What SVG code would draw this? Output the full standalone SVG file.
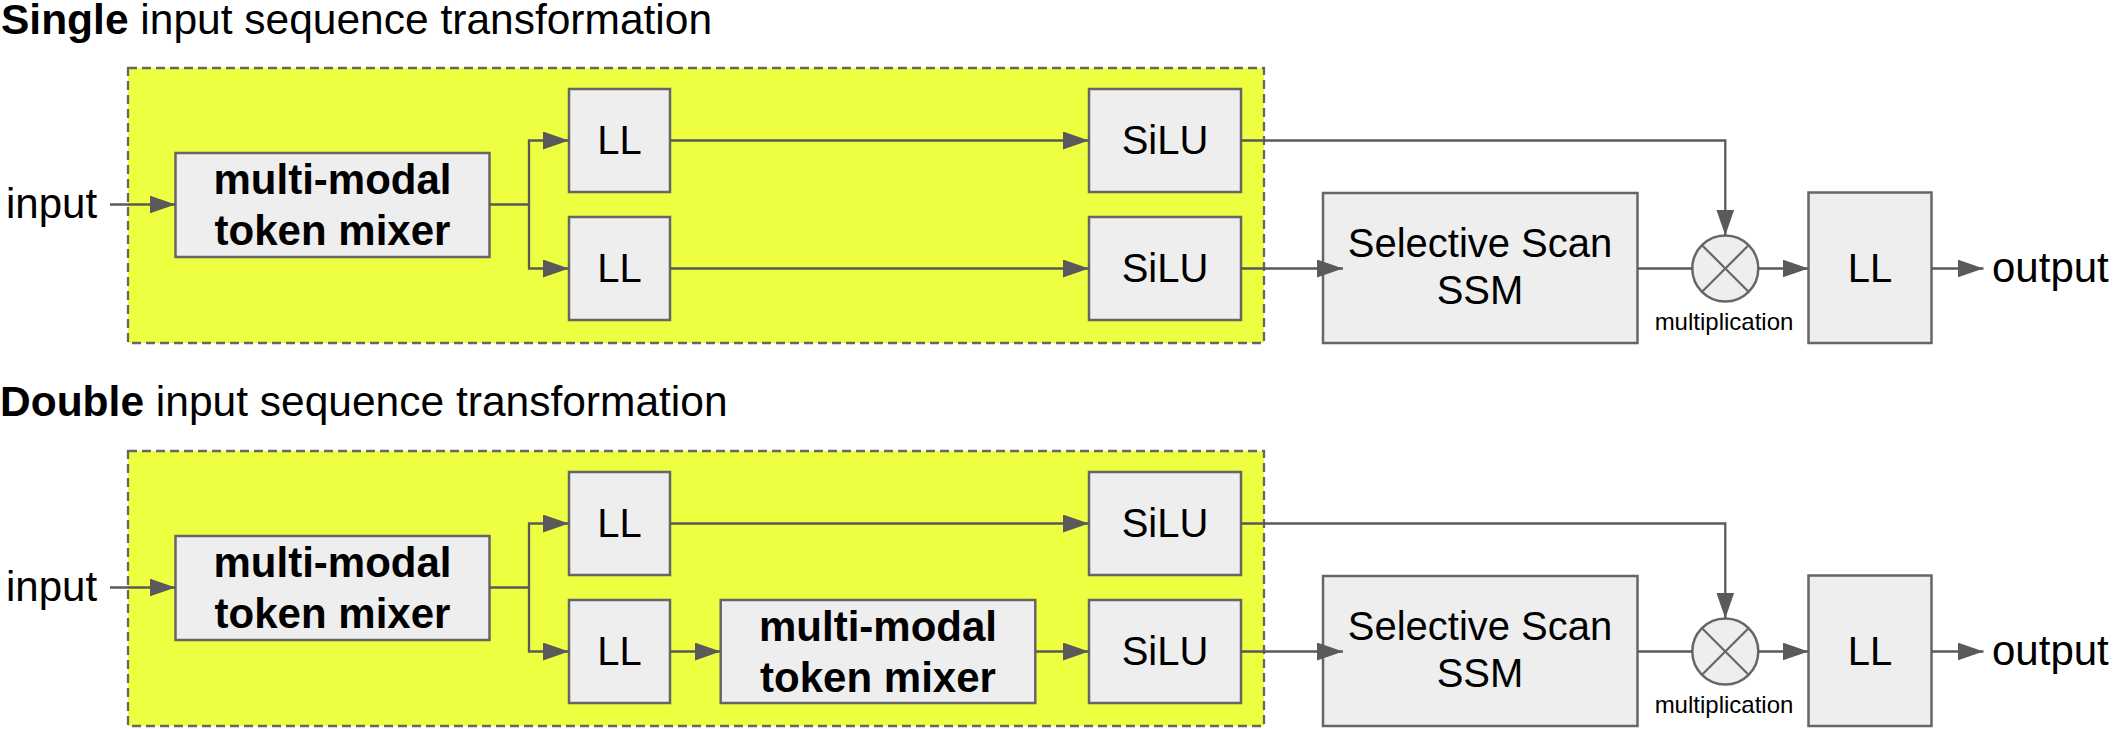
<svg xmlns="http://www.w3.org/2000/svg" width="2114" height="729" viewBox="0 0 2114 729">
<style>
text{font-family:"Liberation Sans",Arial,sans-serif;fill:#000}
.title{font-size:42.5px}
.b{font-weight:bold}
.lbl{font-size:42px}
.nt{font-size:40px;text-anchor:middle}
.bt{font-size:42px;font-weight:bold;text-anchor:middle}
.sm{font-size:24px;text-anchor:middle}
.box{fill:#eeeeee;stroke:#666666;stroke-width:2.5}
.grp{fill:#eeff41;stroke:#666666;stroke-width:2.3;stroke-dasharray:9 5}
.c{fill:none;stroke:#5a5a5a;stroke-width:2.3}
.ca{fill:none;stroke:#5a5a5a;stroke-width:2.3;marker-end:url(#ah)}
.x{stroke:#666666;stroke-width:2.2}
</style>
<defs>
<marker id="ah" markerUnits="userSpaceOnUse" markerWidth="26" markerHeight="18" refX="26" refY="9" orient="auto"><path d="M0,0 L26,9 L0,18 z" fill="#5a5a5a"/></marker>
</defs>

<!-- Row 1 -->
<g id="title1"><text class="title" x="1" y="34"><tspan class="b">Single</tspan> input sequence transformation</text></g>
<g id="group1"><rect class="grp" x="128" y="68" width="1136" height="275"/></g>
<g id="input1"><text class="lbl" x="6" y="218.3">input</text></g>
<g id="mixer1"><rect class="box" x="175.5" y="153" width="314" height="104"/><text class="bt" x="332.5" y="194.3">multi-modal</text><text class="bt" x="332.5" y="245">token mixer</text></g>
<g id="ll1a"><rect class="box" x="569" y="89" width="101" height="103"/><text class="nt" x="619.5" y="153.5">LL</text></g>
<g id="ll1b"><rect class="box" x="569" y="217" width="101" height="103"/><text class="nt" x="619.5" y="281.5">LL</text></g>
<g id="silu1a"><rect class="box" x="1089" y="89" width="152" height="103"/><text class="nt" x="1165" y="153.5">SiLU</text></g>
<g id="silu1b"><rect class="box" x="1089" y="217" width="152" height="103"/><text class="nt" x="1165" y="281.5">SiLU</text></g>
<g id="ssm1"><rect class="box" x="1323" y="193" width="314.5" height="150"/><text class="nt" x="1480" y="256.7">Selective Scan</text><text class="nt" x="1480" y="304">SSM</text></g>
<g id="mul1"><circle class="box" cx="1725.3" cy="268.5" r="33"/><line class="x" x1="1702.3" y1="245.5" x2="1748.3" y2="291.5"/><line class="x" x1="1748.3" y1="245.5" x2="1702.3" y2="291.5"/><text class="sm" x="1724" y="330">multiplication</text></g>
<g id="llout1"><rect class="box" x="1808.5" y="192.5" width="123" height="150.5"/><text class="nt" x="1870" y="281.5">LL</text></g>
<g id="output1"><text class="lbl" x="1992" y="282">output</text></g>

<!-- Row 2 -->
<g id="title2"><text class="title" x="0" y="416"><tspan class="b">Double</tspan> input sequence transformation</text></g>
<g id="group2"><rect class="grp" x="128" y="451" width="1136" height="275"/></g>
<g id="input2"><text class="lbl" x="6" y="601.3">input</text></g>
<g id="mixer2"><rect class="box" x="175.5" y="536" width="314" height="104"/><text class="bt" x="332.5" y="577.3">multi-modal</text><text class="bt" x="332.5" y="628">token mixer</text></g>
<g id="ll2a"><rect class="box" x="569" y="472" width="101" height="103"/><text class="nt" x="619.5" y="536.5">LL</text></g>
<g id="ll2b"><rect class="box" x="569" y="600" width="101" height="103"/><text class="nt" x="619.5" y="664.5">LL</text></g>
<g id="mixer3"><rect class="box" x="720.7" y="600" width="314.6" height="103"/><text class="bt" x="878" y="641">multi-modal</text><text class="bt" x="878" y="691.7">token mixer</text></g>
<g id="silu2a"><rect class="box" x="1089" y="472" width="152" height="103"/><text class="nt" x="1165" y="536.5">SiLU</text></g>
<g id="silu2b"><rect class="box" x="1089" y="600" width="152" height="103"/><text class="nt" x="1165" y="664.5">SiLU</text></g>
<g id="ssm2"><rect class="box" x="1323" y="576" width="314.5" height="150"/><text class="nt" x="1480" y="639.7">Selective Scan</text><text class="nt" x="1480" y="687">SSM</text></g>
<g id="mul2"><circle class="box" cx="1725.3" cy="651.5" r="33"/><line class="x" x1="1702.3" y1="628.5" x2="1748.3" y2="674.5"/><line class="x" x1="1748.3" y1="628.5" x2="1702.3" y2="674.5"/><text class="sm" x="1724" y="713">multiplication</text></g>
<g id="llout2"><rect class="box" x="1808.5" y="575.5" width="123" height="150.5"/><text class="nt" x="1870" y="664.5">LL</text></g>
<g id="output2"><text class="lbl" x="1992" y="665">output</text></g>

<g id="connectors">
<path class="ca" d="M110,204.5 H175.5"/>
<path class="ca" d="M489.5,204.5 H529 V140.5 H569"/>
<path class="ca" d="M529,204.5 V268.5 H569"/>
<path class="ca" d="M670,140.5 H1089"/>
<path class="ca" d="M670,268.5 H1089"/>
<path class="ca" d="M1241,140.5 H1725.3 V235.5"/>
<path class="ca" d="M1241,268.5 H1343"/>
<path class="c" d="M1637.5,268.5 H1692.3"/>
<path class="ca" d="M1758.3,268.5 H1808.5"/>
<path class="ca" d="M1931.5,268.5 H1983.5"/>

<path class="ca" d="M110,587.5 H175.5"/>
<path class="ca" d="M489.5,587.5 H529 V523.5 H569"/>
<path class="ca" d="M529,587.5 V651.5 H569"/>
<path class="ca" d="M670,523.5 H1089"/>
<path class="ca" d="M670,651.5 H720.7"/>
<path class="ca" d="M1035.3,651.5 H1089"/>
<path class="ca" d="M1241,523.5 H1725.3 V618.5"/>
<path class="ca" d="M1241,651.5 H1343"/>
<path class="c" d="M1637.5,651.5 H1692.3"/>
<path class="ca" d="M1758.3,651.5 H1808.5"/>
<path class="ca" d="M1931.5,651.5 H1983.5"/>
</g>
</svg>
